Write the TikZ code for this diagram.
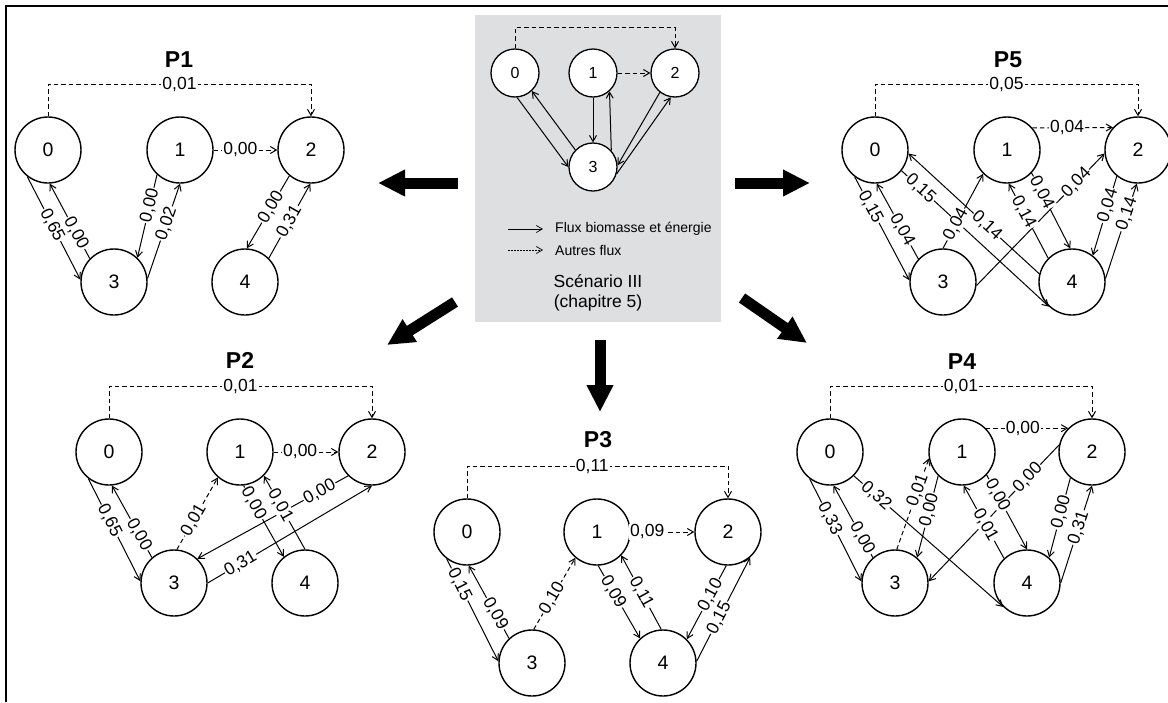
\documentclass[tikz,border=0pt]{standalone}
\usepackage{fontspec}
\setmainfont{Liberation Sans}
\usetikzlibrary{arrows.meta}
\definecolor{boxgray}{RGB}{222,223,225}
\begin{document}
\begin{tikzpicture}[x=1pt,y=-1pt,
  st/.style={circle,draw,line width=1.4pt,minimum size=66pt,inner sep=0pt,fill=white,font=\fontsize{19.5}{19.5}\selectfont},
  sst/.style={circle,draw,line width=1.3pt,minimum size=48pt,inner sep=0pt,fill=white,font=\fontsize{16}{16}\selectfont},
  fl/.style={line width=1pt,-{Straight Barb[length=6pt,width=7pt]}},
  ofl/.style={fl,dash pattern=on 4.5pt off 3pt},
  lab/.style={fill=white,inner sep=1pt,font=\fontsize{17.5}{17.5}\selectfont,sloped},
  ttl/.style={font=\fontsize{23}{23}\selectfont\bfseries},
  big/.style={line width=11pt,-{Triangle[length=27pt,width=25pt]}},
  lgt/.style={anchor=west,inner sep=0pt,font=\fontsize{14}{14}\selectfont},
]
\useasboundingbox (0,0) rectangle (1168,702);
% frame
\draw[line width=1.8pt] (6,702) -- (6,6) -- (1168,6);

% central panel
\node[fill=boxgray,draw=none,minimum width=246pt,minimum height=307pt,inner sep=0pt] (scen) at (597.5,168.5) {};
\node[sst] (c0) at (515,73) {0};
\node[sst] (c1) at (593,73) {1};
\node[sst] (c2) at (675,73) {2};
\node[sst] (c3) at (593,167) {3};
\draw[ofl] (c0.north) -- ++(0,-21) -| (c2.north);
\draw[fl] (c0.275) -- (c3.180);
\draw[fl] (c3.136) -- (c0.313);
\draw[fl] (c1.270) -- (c3.90);
\draw[fl] (c3.42) -- (c1.312);
\draw[fl] (c2.232) -- (c3.4);
\draw[fl] (c3.344) -- (c2.260);
\draw[ofl] (c1.0) -- (c2.180);
\coordinate (lg1a) at (508,229); \coordinate (lg1b) at (543,229);
\coordinate (lg2a) at (508,250); \coordinate (lg2b) at (543,250);
\draw[fl,line width=0.7pt] (lg1a) -- (lg1b);
\draw[fl,line width=0.7pt,dash pattern=on 1.5pt off 1.5pt] (lg2a) -- (lg2b);
\node[lgt] (lt1) at (555,229) {Flux biomasse et énergie};
\node[lgt] (lt2) at (555,250) {Autres flux};
\node[align=center,font=\fontsize{17.5}{20}\selectfont] (scn) at (598,293) {Scénario III\\(chapitre 5)};

% block arrows
\coordinate (aLs) at (458,183); \coordinate (aLe) at (378,183);
\coordinate (aRs) at (735,183); \coordinate (aRe) at (810,183);
\coordinate (aBLs) at (455,302); \coordinate (aBLe) at (387,345);
\coordinate (aBRs) at (742,298); \coordinate (aBRe) at (807,343);
\coordinate (aDs) at (600,340); \coordinate (aDe) at (600,412);
\draw[big] (aLs) -- (aLe);
\draw[big] (aRs) -- (aRe);
\draw[big] (aBLs) -- (aBLe);
\draw[big] (aBRs) -- (aBRe);
\draw[big] (aDs) -- (aDe);

% P1
\node[ttl] (t1) at (179,60) {P1};
\node[st] (p1n0) at (48,150) {0};
\node[st] (p1n1) at (180,150) {1};
\node[st] (p1n2) at (311,150) {2};
\node[st] (p1n3) at (114,282) {3};
\node[st] (p1n4) at (245,282) {4};
\draw[ofl] (p1n0.north) -- ++(0,-32) -| node[lab,pos=.25]{0,01} (p1n2.north);
\draw[fl] (p1n0.232) -- node[lab,pos=.47]{0,65} (p1n3.176);
\draw[fl] (p1n3.136) -- node[lab,pos=.34]{0,00} (p1n0.273);
\draw[fl] (p1n1.227) -- node[lab,pos=.37]{0,00} (p1n3.46);
\draw[fl] (p1n3.6) -- node[lab,pos=.58]{0,02} (p1n1.270);
\draw[ofl] (p1n1.0) -- node[lab,pos=.42]{0,00} (p1n2.180);
\draw[fl] (p1n2.230) -- node[lab,pos=.43]{0,00} (p1n4.87);
\draw[fl] (p1n4.45) -- node[lab,pos=.49]{0,31} (p1n2.269);

% P5
\node[ttl] (t5) at (1008,60) {P5};
\node[st] (p5n0) at (875,150) {0};
\node[st] (p5n1) at (1007,150) {1};
\node[st] (p5n2) at (1138,150) {2};
\node[st] (p5n3) at (943,282) {3};
\node[st] (p5n4) at (1072,282) {4};
\draw[ofl] (p5n0.north) -- ++(0,-32) -| node[lab,pos=.25]{0,05} (p5n2.north);
\draw[fl] (p5n0.322) -- node[lab,pos=.13]{0,15} (p5n4.227);
\draw[fl] (p5n4.166) -- node[lab,pos=.40]{0,14} (p5n0.354);
\draw[fl] (p5n3.354) -- node[lab,pos=.78]{0,04} (p5n2.186);
\draw[fl] (p5n0.233) -- node[lab,pos=.29]{0,15} (p5n3.177);
\draw[fl] (p5n3.137) -- node[lab,pos=.39]{0,04} (p5n0.273);
\draw[fl] (p5n3.90) -- node[lab,pos=.32]{0,04} (p5n1.225);
\draw[fl] (p5n1.317) -- node[lab,pos=.26]{0,04} (p5n4.93);
\draw[fl] (p5n4.135) -- node[lab,pos=.62]{0,14} (p5n1.273);
\draw[fl] (p5n2.231) -- node[lab,pos=.37]{0,04} (p5n4.52);
\draw[fl] (p5n4.6) -- node[lab,pos=.68]{0,14} (p5n2.268);
\draw[ofl] (p5n1.41) -- node[lab,pos=.43]{0,04} (p5n2.138);

% P2
\node[ttl] (t2) at (240,360) {P2};
\node[st] (p2n0) at (109,452) {0};
\node[st] (p2n1) at (240,452) {1};
\node[st] (p2n2) at (372,452) {2};
\node[st] (p2n3) at (174,583) {3};
\node[st] (p2n4) at (305,583) {4};
\draw[ofl] (p2n0.north) -- ++(0,-32) -| node[lab,pos=.25]{0,01} (p2n2.north);
\draw[fl] (p2n2.225) -- node[lab,pos=.19]{0,00} (p2n3.46);
\draw[fl] (p2n3.0) -- node[lab,pos=.20]{0,31} (p2n2.270);
\draw[fl] (p2n0.232) -- node[lab,pos=.41]{0,65} (p2n3.177);
\draw[fl] (p2n3.131) -- node[lab,pos=.32]{0,00} (p2n0.275);
\draw[ofl] (p2n3.85) -- node[lab,pos=.41]{0,01} (p2n1.229);
\draw[fl] (p2n1.276) -- node[lab,pos=.25]{0,00} (p2n4.129);
\draw[fl] (p2n4.90) -- node[lab,pos=.60]{0,01} (p2n1.315);
\draw[ofl] (p2n1.0) -- node[lab,pos=.41]{0,00} (p2n2.180);

% P3
\node[ttl] (t3) at (598,440) {P3};
\node[st] (p3n0) at (467,532) {0};
\node[st] (p3n1) at (597,532) {1};
\node[st] (p3n2) at (728,532) {2};
\node[st] (p3n3) at (532,663) {3};
\node[st] (p3n4) at (663,663) {4};
\draw[ofl] (p3n0.north) -- ++(0,-32) -| node[lab,pos=.24]{0,11} (p3n2.north);
\draw[fl] (p3n0.233) -- node[lab,pos=.25]{0,15} (p3n3.177);
\draw[fl] (p3n3.133) -- node[lab,pos=.34]{0,09} (p3n0.273);
\draw[ofl] (p3n3.87) -- node[lab,pos=.44]{0,10} (p3n1.230);
\draw[fl] (p3n1.272) -- node[lab,pos=.36]{0,09} (p3n4.133);
\draw[fl] (p3n4.93) -- node[lab,pos=.50]{0,11} (p3n1.316);
\draw[fl] (p3n2.267) -- node[lab,pos=.40]{0,10} (p3n4.45);
\draw[fl] (p3n4.3) -- node[lab,pos=.42]{0,15} (p3n2.311);
\draw[ofl] (p3n1.0) -- node[lab,pos=.26]{0,09} (p3n2.180);

% P4
\node[ttl] (t4) at (962,362) {P4};
\node[st] (p4n0) at (830,452) {0};
\node[st] (p4n1) at (962,452) {1};
\node[st] (p4n2) at (1092,452) {2};
\node[st] (p4n3) at (895,583) {3};
\node[st] (p4n4) at (1027,583) {4};
\draw[ofl] (p4n0.north) -- ++(0,-32) -| node[lab,pos=.25]{0,01} (p4n2.north);
\draw[fl] (p4n0.315) -- node[lab,pos=.15]{0,32} (p4n4.225);
\draw[fl] (p4n2.168) -- node[lab,pos=.24]{0,00} (p4n3.3);
\draw[fl] (p4n0.233) -- node[lab,pos=.39]{0,33} (p4n3.177);
\draw[fl] (p4n3.131) -- node[lab,pos=.27]{0,00} (p4n0.276);
\draw[ofl] (p4n3.87) -- node[lab,pos=.65]{0,01} (p4n1.191);
\draw[fl] (p4n1.225) -- node[lab,pos=.42]{0,00} (p4n3.49);
\draw[fl] (p4n1.317) -- node[lab,pos=.27]{0,00} (p4n4.90);
\draw[fl] (p4n4.133) -- node[lab,pos=.46]{0,01} (p4n1.273);
\draw[fl] (p4n2.230) -- node[lab,pos=.43]{0,00} (p4n4.49);
\draw[fl] (p4n4.0) -- node[lab,pos=.57]{0,31} (p4n2.270);
\draw[ofl] (p4n1.45) -- node[lab,pos=.45]{0,00} (p4n2.135);
\end{tikzpicture}
\end{document}
